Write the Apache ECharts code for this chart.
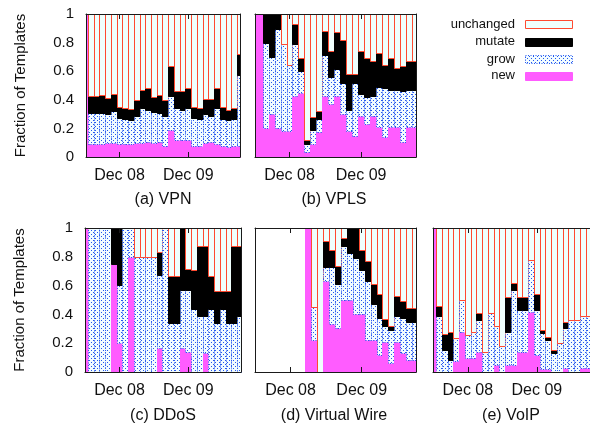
<!DOCTYPE html>
<html><head><meta charset="utf-8">
<script src="https://cdn.jsdelivr.net/npm/echarts@6/dist/echarts.min.js"></script>
<style>html,body{margin:0;padding:0;background:#fff}#c{width:590px;height:425px}</style>
</head><body><div id="c"></div>
<script>
// ---------- data ----------
const months = [0,1,2,3,4,5,6,7,8,9,10,11,12,13,14,15,16,17,18,19,20,21,22,23,24,25,26,27];
const tickMonths = [6, 18];
const tickLabels = ['Dec 08', 'Dec 09'];
const panelTitles = ['(a) VPN', '(b) VPLS', '(c) DDoS', '(d) Virtual Wire', '(e) VoIP'];
const legendNames = ['unchanged', 'mutate', 'grow', 'new'];
const yAxisTitle = 'Fraction of Templates';

// (a) VPN
const vpnNew    = [1,.09,.09,.09,.095,.10,.09,.09,.09,.095,.10,.105,.10,.105,.08,.19,.12,.12,.12,.08,.08,.095,.105,.09,.08,.07,.08,.08];
const vpnGrow   = [0,.22,.22,.22,.205,.22,.185,.175,.17,.195,.24,.225,.215,.205,.21,.24,.22,.21,.225,.19,.185,.205,.185,.25,.185,.19,.185,.49];
const vpnMutate = [0,.115,.12,.125,.115,.12,.075,.08,.075,.11,.13,.15,.105,.125,.11,.205,.125,.135,.14,.08,.075,.105,.115,.145,.085,.07,.075,.15];
// (b) VPLS
const vplsNew    = [1,1,.20,.30,.20,.18,.18,.43,.45,.035,.093,.174,.43,.372,.43,.30,.18,.15,.29,.23,.29,.21,.14,.21,.21,.105,.21,.21];
const vplsGrow   = [0,0,.60,.40,.695,.61,.46,.36,.15,.058,.093,.093,.28,.186,.186,.22,.146,.37,.15,.19,.14,.28,.34,.26,.26,.36,.26,.26];
const vplsMutate = [0,0,.20,.30,.105,0,0,.14,.09,.023,.093,.058,.17,.186,.256,.30,.256,.06,.30,.27,.24,.24,.16,.22,.15,.17,.20,.20];
// (c) DDoS
const ddosNew    = [1,0,0,0,0,.75,.20,0,.80,0,0,0,0,.17,0,0,0,.17,.14,0,0,.13,0,0,0,0,0,0];
const ddosGrow   = [0,1,1,1,1,0,.406,1,.20,.80,.80,.80,.80,.506,1,.34,.34,.40,.43,.44,.39,.26,.44,.34,.44,.34,.34,.39];
const ddosMutate = [0,0,0,0,0,.25,.394,0,0,0,0,0,0,.157,0,.33,.33,.43,.145,.27,.485,.483,.23,.22,.12,.22,.533,.483];
// (d) Virtual Wire (no templates before Mar 09)
const vwNew    = [null,null,null,null,null,null,null,null,null,1,.225,0,.634,.333,.306,.50,.50,.40,.40,.22,.22,.12,.21,.06,.21,.13,.086,.086];
const vwGrow   = [null,null,null,null,null,null,null,null,null,0,.225,0,.093,.394,.305,.377,.326,.39,.31,.41,.25,.255,.107,.234,.176,.245,.264,.264];
const vwMutate = [null,null,null,null,null,null,null,null,null,0,0,0,.18,.123,.123,.053,.174,.21,.14,.14,.14,.165,.05,.023,.139,.115,.094,.094];
// (e) VoIP
const voipNew    = [1,0,0,0,.075,.28,.10,.10,.137,0,0,.046,0,.05,.05,.137,.137,.42,.12,.02,.02,0,0,.03,0,0,.03,.03];
const voipGrow   = [0,.387,.155,.085,.16,.22,.16,.18,.226,.14,.41,.274,.18,.23,.52,.293,.293,.36,.31,.25,.20,.13,.20,.275,.36,.36,.36,.36];
const voipMutate = [0,.073,.11,.195,0,0,0,0,.047,0,0,0,0,.24,.05,.09,.09,0,.11,.02,.025,.02,0,.045,0,0,0,0];

// ---------- styles ----------
const FONT = '"Liberation Sans", Arial, Helvetica, sans-serif';
const C_NEW = '#ff5cff', C_MUT = '#000000', C_UNCH = '#effffd', C_UNCH_LINE = '#ff4a30', C_GROW_LINE = '#2a5cf0';
const pc = document.createElement('canvas'); pc.width = 4; pc.height = 4;
const g = pc.getContext('2d');
g.fillStyle = '#f2fcff'; g.fillRect(0, 0, 4, 4);
g.fillStyle = '#2456ee'; g.fillRect(1, 0, 1, 1); g.fillRect(3, 2, 1, 1);
const growPattern = {image: pc, repeat: 'repeat'};

const segStyles = [
  {fill: C_NEW, stroke: C_NEW, lineWidth: 1},
  {fill: growPattern, stroke: C_GROW_LINE, lineWidth: 1, lineDash: [1, 1.5]},
  {fill: C_MUT, stroke: C_MUT, lineWidth: 1}
];
const unchStyle = {fill: C_UNCH, stroke: C_UNCH_LINE, lineWidth: 1};

function renderItem(params, api) {
  const x = api.value(0);
  const vals = [api.value(1), api.value(2), api.value(3)];
  const cs = params.coordSys;
  let xl = api.coord([x - 0.5, 0])[0], xr = api.coord([x + 0.5, 0])[0];
  xl = Math.max(xl, cs.x); xr = Math.min(xr, cs.x + cs.width);
  if (xr <= xl) return null;
  const L = Math.round(xl) + 0.5, R = Math.round(xr) + 0.5;
  const children = [];
  let base = 0;
  const seg = (v0, v1, style) => {
    const y0 = Math.round(api.coord([x, v0])[1]) + 0.5;
    const y1 = Math.round(api.coord([x, v1])[1]) + 0.5;
    if (y0 - y1 < 0.5) return;
    children.push({type: 'rect', shape: {x: L, y: y1, width: R - L, height: y0 - y1}, style: style});
  };
  for (let k = 0; k < 3; k++) {
    if (vals[k] > 0) { seg(base, base + vals[k], segStyles[k]); base += vals[k]; }
  }
  if (base < 0.999) seg(base, 1, unchStyle);
  return {type: 'group', children: children};
}

const panels = [
  {newV: vpnNew,  grow: vpnGrow,  mut: vpnMutate,  grid: {left: 86,  top: 14,  width: 154, height: 143}, xMin: 0.15,  xMax: 27.03, yLab: true,  tx: 163, ty: 200},
  {newV: vplsNew, grow: vplsGrow, mut: vplsMutate, grid: {left: 255, top: 14,  width: 161, height: 143}, xMin: 0.22,  xMax: 27.19, yLab: false, tx: 334, ty: 200},
  {newV: ddosNew, grow: ddosGrow, mut: ddosMutate, grid: {left: 85,  top: 228, width: 156, height: 144}, xMin: -0.02, xMax: 27.2,  yLab: true,  tx: 163, ty: 416},
  {newV: vwNew,   grow: vwGrow,   mut: vwMutate,   grid: {left: 255, top: 228, width: 161, height: 144}, xMin: 0.01,  xMax: 27.16, yLab: false, tx: 334, ty: 416},
  {newV: voipNew, grow: voipGrow, mut: voipMutate, grid: {left: 433, top: 228, width: 161, height: 144}, xMin: -0.05, xMax: 27.24, yLab: false, tx: 511, ty: 416}
];

const grids = [], xAxes = [], yAxes = [], series = [], graphics = [];
const lineStyle = {color: '#1a1a1a', width: 1};
panels.forEach((p, i) => {
  grids.push(Object.assign({containLabel: false}, p.grid));
  const tickFmt = v => { const k = tickMonths.indexOf(Math.round(v)); return k >= 0 ? tickLabels[k] : ''; };
  xAxes.push({type: 'value', gridIndex: i, position: 'bottom', min: p.xMin, max: p.xMax, z: 10,
    axisLine: {show: true, onZero: false, lineStyle: lineStyle},
    axisTick: {show: true, inside: true, length: 5, customValues: tickMonths, lineStyle: lineStyle},
    axisLabel: {show: true, customValues: tickMonths, formatter: tickFmt, fontSize: 16, color: '#111', fontFamily: FONT, margin: 11},
    splitLine: {show: false}});
  xAxes.push({type: 'value', gridIndex: i, position: 'top', min: p.xMin, max: p.xMax, z: 10,
    axisLine: {show: true, onZero: false, lineStyle: lineStyle},
    axisTick: {show: true, inside: true, length: 5, customValues: tickMonths, lineStyle: lineStyle},
    axisLabel: {show: false}, splitLine: {show: false}});
  yAxes.push({type: 'value', gridIndex: i, position: 'left', min: 0, max: 1, interval: 0.2, z: 10,
    axisLine: {show: true, onZero: false, lineStyle: lineStyle},
    axisTick: {show: false},
    axisLabel: {show: p.yLab, fontSize: 15, color: '#111', fontFamily: FONT, margin: 12},
    name: p.yLab ? yAxisTitle : '', nameLocation: 'middle', nameGap: 58,
    nameTextStyle: {fontSize: 15, color: '#111', fontFamily: FONT},
    splitLine: {show: false}});
  yAxes.push({type: 'value', gridIndex: i, position: 'right', min: 0, max: 1, interval: 0.2, z: 10,
    axisLine: {show: true, onZero: false, lineStyle: lineStyle},
    axisTick: {show: false}, axisLabel: {show: false}, splitLine: {show: false}});
  const data = months.map((m, j) => [m, p.newV[j], p.grow[j], p.mut[j]]).filter(d => d[1] != null);
  series.push({type: 'custom', name: panelTitles[i], xAxisIndex: 2 * i, yAxisIndex: 2 * i,
    renderItem: renderItem, data: data, encode: {x: 0, y: [1, 2, 3]}, silent: true, animation: false});
  graphics.push({type: 'text', x: p.tx, y: p.ty,
    style: {text: panelTitles[i], fill: '#111', font: '16px ' + FONT, textAlign: 'center', textVerticalAlign: 'middle'}});
});

// legend
const legendStyles = [unchStyle, {fill: C_MUT, stroke: C_MUT}, {fill: growPattern, stroke: C_GROW_LINE, lineDash: [1, 1.5]}, {fill: C_NEW, stroke: C_NEW}];
const legendY = [24, 41.5, 59, 75.5];
legendNames.forEach((n, k) => {
  graphics.push({type: 'text', x: 515, y: legendY[k],
    style: {text: n, fill: '#111', font: '13px ' + FONT, textAlign: 'right', textVerticalAlign: 'middle'}});
  graphics.push({type: 'rect', shape: {x: 525.5, y: Math.round(legendY[k] - 4) + 0.5, width: 47, height: 8},
    style: Object.assign({lineWidth: 1}, legendStyles[k])});
});

const chart = echarts.init(document.getElementById('c'), null, {renderer: 'canvas'});
chart.setOption({
  animation: false,
  backgroundColor: '#ffffff',
  textStyle: {fontFamily: FONT},
  grid: grids, xAxis: xAxes, yAxis: yAxes, series: series,
  graphic: graphics
});
</script>
</body></html>
